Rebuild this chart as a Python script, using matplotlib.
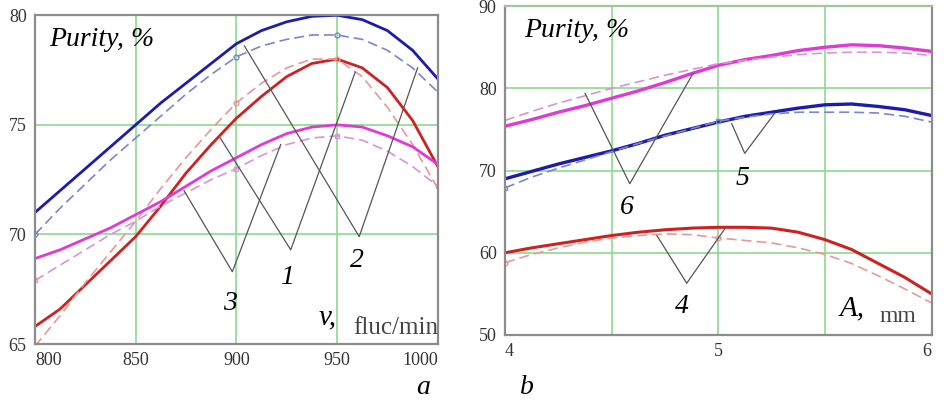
import numpy as np
import matplotlib
matplotlib.use('Agg')
import matplotlib.pyplot as plt

plt.rcParams['font.family'] = ['Liberation Serif', 'DejaVu Serif']

# panel a: purity vs fluctuation frequency
v = [800, 812.5, 825, 837.5, 850, 862.5, 875, 887.5, 900, 912.5, 925, 937.5,
     950, 962.5, 975, 987.5, 1000]
a_blue = [71.0, 72.0, 73.0, 74.0, 75.0, 76.0, 76.9, 77.8, 78.7, 79.3, 79.7,
          79.95, 80.0, 79.8, 79.3, 78.4, 77.1]
a_blue_d = [70.0, 71.2, 72.3, 73.4, 74.4, 75.4, 76.4, 77.3, 78.1, 78.6, 78.9,
            79.1, 79.1, 78.9, 78.4, 77.6, 76.5]
a_red = [65.8, 66.6, 67.7, 68.8, 69.9, 71.3, 72.8, 74.1, 75.3, 76.3, 77.2,
         77.8, 78.0, 77.6, 76.7, 75.2, 73.1]
a_red_d = [64.9, 66.3, 67.8, 69.2, 70.6, 72.1, 73.5, 74.8, 76.0, 76.9, 77.6,
           78.0, 78.0, 77.2, 75.8, 74.1, 72.1]
a_mag = [68.9, 69.3, 69.8, 70.3, 70.9, 71.5, 72.2, 72.9, 73.5, 74.1, 74.6,
         74.9, 75.0, 74.9, 74.5, 74.0, 73.2]
a_mag_d = [67.9, 68.6, 69.3, 70.0, 70.6, 71.3, 71.9, 72.5, 73.0, 73.6, 74.1,
           74.4, 74.5, 74.3, 73.8, 73.1, 72.2]

# panel b: purity vs amplitude
A = [4.0, 4.125, 4.25, 4.375, 4.5, 4.625, 4.75, 4.875, 5.0, 5.125, 5.25,
     5.375, 5.5, 5.625, 5.75, 5.875, 6.0]
b_mag = [75.4, 76.2, 77.1, 77.9, 78.8, 79.7, 80.7, 81.8, 82.8, 83.5, 84.0,
         84.6, 85.0, 85.3, 85.2, 84.9, 84.5]
b_mag_d = [76.1, 77.2, 78.2, 79.1, 80.0, 80.8, 81.6, 82.3, 83.0, 83.4, 83.8,
           84.1, 84.3, 84.4, 84.4, 84.3, 84.0]
b_blue = [69.0, 69.9, 70.8, 71.6, 72.4, 73.3, 74.3, 75.1, 75.9, 76.6, 77.1,
          77.6, 78.0, 78.1, 77.8, 77.4, 76.7]
b_blue_d = [67.9, 69.2, 70.3, 71.3, 72.3, 73.3, 74.2, 75.1, 76.0, 76.5, 76.9,
            77.1, 77.1, 77.1, 77.0, 76.6, 75.9]
b_red = [60.0, 60.6, 61.1, 61.6, 62.1, 62.5, 62.8, 63.0, 63.1, 63.1, 63.0,
         62.5, 61.6, 60.4, 58.7, 57.0, 55.0]
b_red_d = [58.8, 59.8, 60.6, 61.3, 61.8, 62.1, 62.3, 62.2, 61.8, 61.5, 61.2,
           60.6, 59.8, 58.7, 57.2, 55.6, 53.9]

# leader lines (arm end, vertex, arm end) and curve numbers
a_leaders = {'3': ([874, 898, 922], [72.0, 68.3, 74.1], (897, 67.4)),
             '1': ([892, 927, 959], [74.4, 69.3, 77.4], (925, 68.6)),
             '2': ([904, 961, 990], [78.6, 69.9, 77.6], (960, 69.4))}
b_leaders = {'6': ([4.375, 4.585, 4.881], [79.4, 68.4, 81.8], (4.57, 67.0)),
             '5': ([5.063, 5.124, 5.265], [75.7, 72.1, 77.0], (5.115, 70.6)),
             '4': ([4.712, 4.852, 5.03], [62.1, 56.3, 62.9], (4.83, 55.0))}

BLUE, BLUE_D = '#1c1caa', '#7a86cc'
RED, RED_D = '#cc2222', '#e39a98'
MAG, MAG_D = '#e03ad6', '#d894d6'
GRID = '#8fd88f'
SPINE = '#8c8c8c'
DASH = (0, (6, 3))

fig = plt.figure(figsize=(9.5, 4.01), dpi=100)
ax1 = fig.add_axes([0.0368, 0.142, 0.424, 0.820])
ax2 = fig.add_axes([0.5316, 0.1646, 0.449, 0.820])


def style(ax):
    ax.grid(True, color=GRID, lw=1.2)
    ax.set_axisbelow(True)
    for s in ax.spines.values():
        s.set_color(SPINE)
        s.set_linewidth(1.6)
    ax.tick_params(length=0, labelsize=13, colors='#333333', pad=6)


# ---- panel a
ax1.plot(v, a_blue, color=BLUE, lw=2)
ax1.plot(v, a_blue_d, color=BLUE_D, lw=1.2, ls=DASH, marker='o', ms=3.5,
         mfc='none', markevery=[0, 8, 12])
ax1.plot(v, a_red, color=RED, lw=2)
ax1.plot(v, a_red_d, color=RED_D, lw=1.2, ls=DASH, marker='o', ms=3.5,
         mfc='none', markevery=[0, 8, 12])
ax1.plot(v, a_mag, color=MAG, lw=2)
ax1.plot(v, a_mag_d, color=MAG_D, lw=1.2, ls=DASH, marker='s', ms=3.5,
         mfc='none', markevery=[0, 8, 12, 16])
for k, (xs, ys, (tx, ty)) in a_leaders.items():
    ax1.plot(xs, ys, color='#555555', lw=0.9)
    ax1.text(tx, ty, k, fontsize=20, style='italic', ha='center', va='top')
ax1.set_xlim(800, 1000)
ax1.set_ylim(65, 80)
ax1.set_xticks([800, 850, 900, 950, 1000])
ax1.set_yticks([65, 70, 75, 80])
style(ax1)
xl = ax1.get_xticklabels()
xl[0].set_ha('left')
xl[-1].set_ha('right')
ax1.text(0.035, 0.925, 'Purity, %', transform=ax1.transAxes, fontsize=20,
         style='italic', va='center')
ax1.text(0.705, 0.08, 'v,', transform=ax1.transAxes, fontsize=21,
         style='italic', va='center')
ax1.text(1.0, 0.05, 'fluc/min', transform=ax1.transAxes, fontsize=18,
         color='#444444', ha='right', va='center')

# ---- panel b
ax2.plot(A, b_mag, color=MAG, lw=2.4)
ax2.plot(A, b_mag_d, color=MAG_D, lw=1.2, ls=DASH)
ax2.plot(A, b_blue, color=BLUE, lw=2.4)
ax2.plot(A, b_blue_d, color=BLUE_D, lw=1.2, ls=DASH, marker='s', ms=3.5,
         mfc='none', markevery=[0, 8])
ax2.plot(A, b_red, color=RED, lw=2.2)
ax2.plot(A, b_red_d, color=RED_D, lw=1.2, ls=DASH, marker='o', ms=3.5,
         mfc='none', markevery=[0, 8])
for k, (xs, ys, (tx, ty)) in b_leaders.items():
    ax2.plot(xs, ys, color='#555555', lw=0.9)
    ax2.text(tx, ty, k, fontsize=20, style='italic', ha='center', va='top')
ax2.set_xlim(4, 6)
ax2.set_ylim(50, 90)
ax2.set_xticks([4, 4.5, 5, 5.5, 6])
ax2.set_xticklabels(['4', '', '5', '', '6'])
ax2.set_yticks([50, 60, 70, 80, 90])
style(ax2)
ax2.spines['top'].set_color('#9cc89c')
xl = ax2.get_xticklabels()
xl[0].set_ha('left')
xl[-1].set_ha('right')
ax2.text(0.045, 0.925, 'Purity, %', transform=ax2.transAxes, fontsize=20,
         style='italic', va='center')
ax2.text(0.785, 0.08, 'A,', transform=ax2.transAxes, fontsize=21,
         style='italic', va='center')
ax2.text(0.965, 0.055, 'mm', transform=ax2.transAxes, fontsize=17,
         color='#444444', ha='right', va='center')

fig.text(423 / 950, 1 - 388 / 401, 'a', fontsize=20, style='italic',
         ha='center', va='center')
fig.text(527 / 950, 1 - 388 / 401, 'b', fontsize=20, style='italic',
         ha='center', va='center')

fig.savefig('out.png', dpi=100)
